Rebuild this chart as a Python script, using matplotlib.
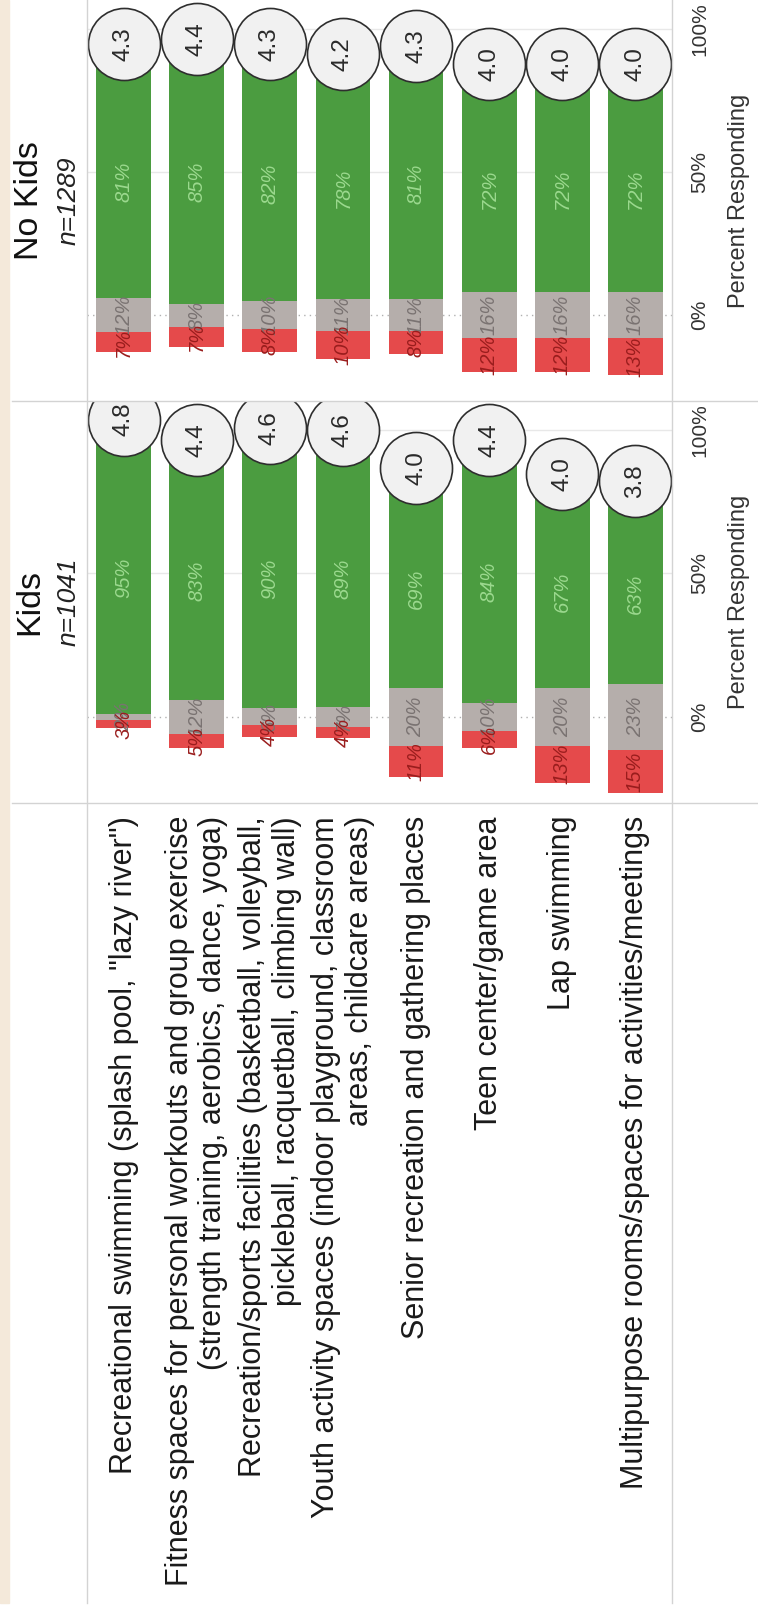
#!/usr/bin/env python3
"""
Rotated diverging bar chart: importance of recreation amenities, Kids vs No Kids.
"""

import matplotlib

matplotlib.use("Agg")
import matplotlib.pyplot as plt
from matplotlib.lines import Line2D
from matplotlib.patches import Rectangle
from matplotlib.transforms import blended_transform_factory


CATEGORIES = [
    'Recreational swimming (splash pool, "lazy river")',
    "Fitness spaces for personal workouts and group exercise\n(strength training, aerobics, dance, yoga)",
    "Recreation/sports facilities (basketball, volleyball,\npickleball, racquetball, climbing wall)",
    "Youth activity spaces (indoor playground, classroom\nareas, childcare areas)",
    "Senior recreation and gathering places",
    "Teen center/game area",
    "Lap swimming",
    "Multipurpose rooms/spaces for activities/meetings",
]

KIDS_POSITIVE = [95, 83, 90, 89, 69, 84, 67, 63]
KIDS_NEUTRAL = [2, 12, 6, 7, 20, 10, 20, 23]
KIDS_NEGATIVE = [3, 5, 4, 4, 11, 6, 13, 15]
KIDS_MEAN = [4.8, 4.4, 4.6, 4.6, 4.0, 4.4, 4.0, 3.8]

NOKIDS_POSITIVE = [81, 85, 82, 78, 81, 72, 72, 72]
NOKIDS_NEUTRAL = [12, 8, 10, 11, 11, 16, 16, 16]
NOKIDS_NEGATIVE = [7, 7, 8, 10, 8, 12, 12, 13]
NOKIDS_MEAN = [4.3, 4.4, 4.3, 4.2, 4.3, 4.0, 4.0, 4.0]

PANELS = [
    ("No Kids", "n=1289", NOKIDS_POSITIVE, NOKIDS_NEUTRAL, NOKIDS_NEGATIVE, NOKIDS_MEAN),
    ("Kids", "n=1041", KIDS_POSITIVE, KIDS_NEUTRAL, KIDS_NEGATIVE, KIDS_MEAN),
]
PERCENT_TICKS = [0, 50, 100]

W, H = 758, 1613
FONT = "Liberation Sans"
GREEN = "#4b9c40"
GRAY = "#b5aeab"
RED = "#e54a4b"
RULE = "#d3d3d3"

plt.rcParams["font.family"] = [FONT, "DejaVu Sans"]


def px_box(x0, y0, x1, y1):
    return [x0 / W, 1 - y1 / H, (x1 - x0) / W, (y1 - y0) / H]


def draw_panel(fig, box, title, subtitle, positive, neutral, negative, means):
    ax = fig.add_axes(px_box(*box))
    n = len(positive)
    xs = list(range(n))
    half = [v / 2 for v in neutral]
    neg_bottom = [-(h + r) for h, r in zip(half, negative)]

    for level in PERCENT_TICKS[1:]:
        ax.axhline(level, color="#e8e8e8", linewidth=1, zorder=0)
    ax.axhline(0, color="#b0b0b0", linewidth=1, linestyle=(0, (1, 3)), zorder=0)

    ax.bar(xs, negative, bottom=neg_bottom, width=0.75, color=RED, zorder=2)
    ax.bar(xs, neutral, bottom=[-h for h in half], width=0.75, color=GRAY, zorder=2)
    ax.bar(xs, positive, bottom=half, width=0.75, color=GREEN, zorder=2)

    label_style = dict(rotation=90, ha="center", va="center", style="italic",
                       fontsize=14.5, zorder=4)
    for x, p, h, r in zip(xs, positive, half, negative):
        ax.text(x, h + p / 2, f"{p}%", color="#9bd98e", **label_style)
        ax.text(x, 0, f"{2 * h:.0f}%", color="#7a7372", **label_style)
        ax.text(x, -h - r / 2, f"{r}%", color="#9a1d1d", **label_style)

    tops = [h + p + 7.5 for h, p in zip(half, positive)]
    ax.scatter(xs, tops, s=2690, facecolor="#f1f1f1", edgecolor="#2e2e2e",
               linewidth=1.2, zorder=5)
    for x, y, m in zip(xs, tops, means):
        ax.text(x, y, f"{m:.1f}", rotation=90, ha="center", va="center",
                fontsize=17.5, color="#2a2a2a", zorder=6)

    ax.set_xlim(-0.5, n - 0.5)
    ax.set_ylim(-30, 110)
    ax.set_xticks([])
    ax.yaxis.tick_right()
    ax.set_yticks(PERCENT_TICKS, [f"{t}%" for t in PERCENT_TICKS])
    ax.tick_params(axis="y", length=0, pad=13, labelsize=15,
                   labelrotation=90, labelcolor="#333333")
    for label in ax.get_yticklabels():
        label.set_va("center")
    for spine in ax.spines.values():
        spine.set_visible(False)
    ax.patch.set_alpha(0)

    ax.text((739 - box[0]) / (box[2] - box[0]), 0.5, "Percent Responding",
            transform=ax.transAxes, rotation=90, ha="center", va="center",
            fontsize=17, color="#333333")

    centre = (box[1] + box[3]) / 2
    fig.text(30 / W, 1 - centre / H, title, rotation=90, ha="center", va="center",
             fontsize=24.5, color="#111111")
    fig.text(69 / W, 1 - centre / H, subtitle, rotation=90, ha="center",
             va="center", fontsize=19, style="italic", color="#222222")
    return ax


def draw_category_labels(fig, box):
    ax = fig.add_axes(px_box(*box))
    ax.set_xlim(-0.5, len(CATEGORIES) - 0.5)
    ax.set_ylim(0, 1)
    ax.axis("off")
    trans = blended_transform_factory(ax.transData, ax.transAxes)
    top = 1 - 13 / (box[3] - box[1])
    for i, name in enumerate(CATEGORIES):
        ax.text(i, top, name, transform=trans, rotation=90, rotation_mode="anchor",
                ha="right", va="center", multialignment="right",
                fontsize=22, color="#1a1a1a", linespacing=1.15)


def draw_frame(fig):
    fig.add_artist(Rectangle((0, 1 - 1603 / H), 9 / W, 1603 / H,
                             transform=fig.transFigure, color="#f4e9da", zorder=0))
    for x in (87, 672):
        fig.add_artist(Line2D([x / W, x / W], [1, 1 - 1603 / H],
                              transform=fig.transFigure, color=RULE, linewidth=1))
    for y in (401, 803):
        fig.add_artist(Line2D([12 / W, 1], [1 - y / H, 1 - y / H],
                              transform=fig.transFigure, color=RULE, linewidth=1))


def main():
    fig = plt.figure(figsize=(W / 100, H / 100), dpi=100)
    fig.patch.set_facecolor("white")
    draw_frame(fig)

    boxes = [(87, 0, 672, 401), (87, 401, 672, 803)]
    for box, (title, subtitle, pos, neu, neg, means) in zip(boxes, PANELS):
        draw_panel(fig, box, title, subtitle, pos, neu, neg, means)

    draw_category_labels(fig, (87, 803, 672, 1603))

    fig.savefig("out.png", dpi=100)
    plt.close(fig)


if __name__ == "__main__":
    main()
